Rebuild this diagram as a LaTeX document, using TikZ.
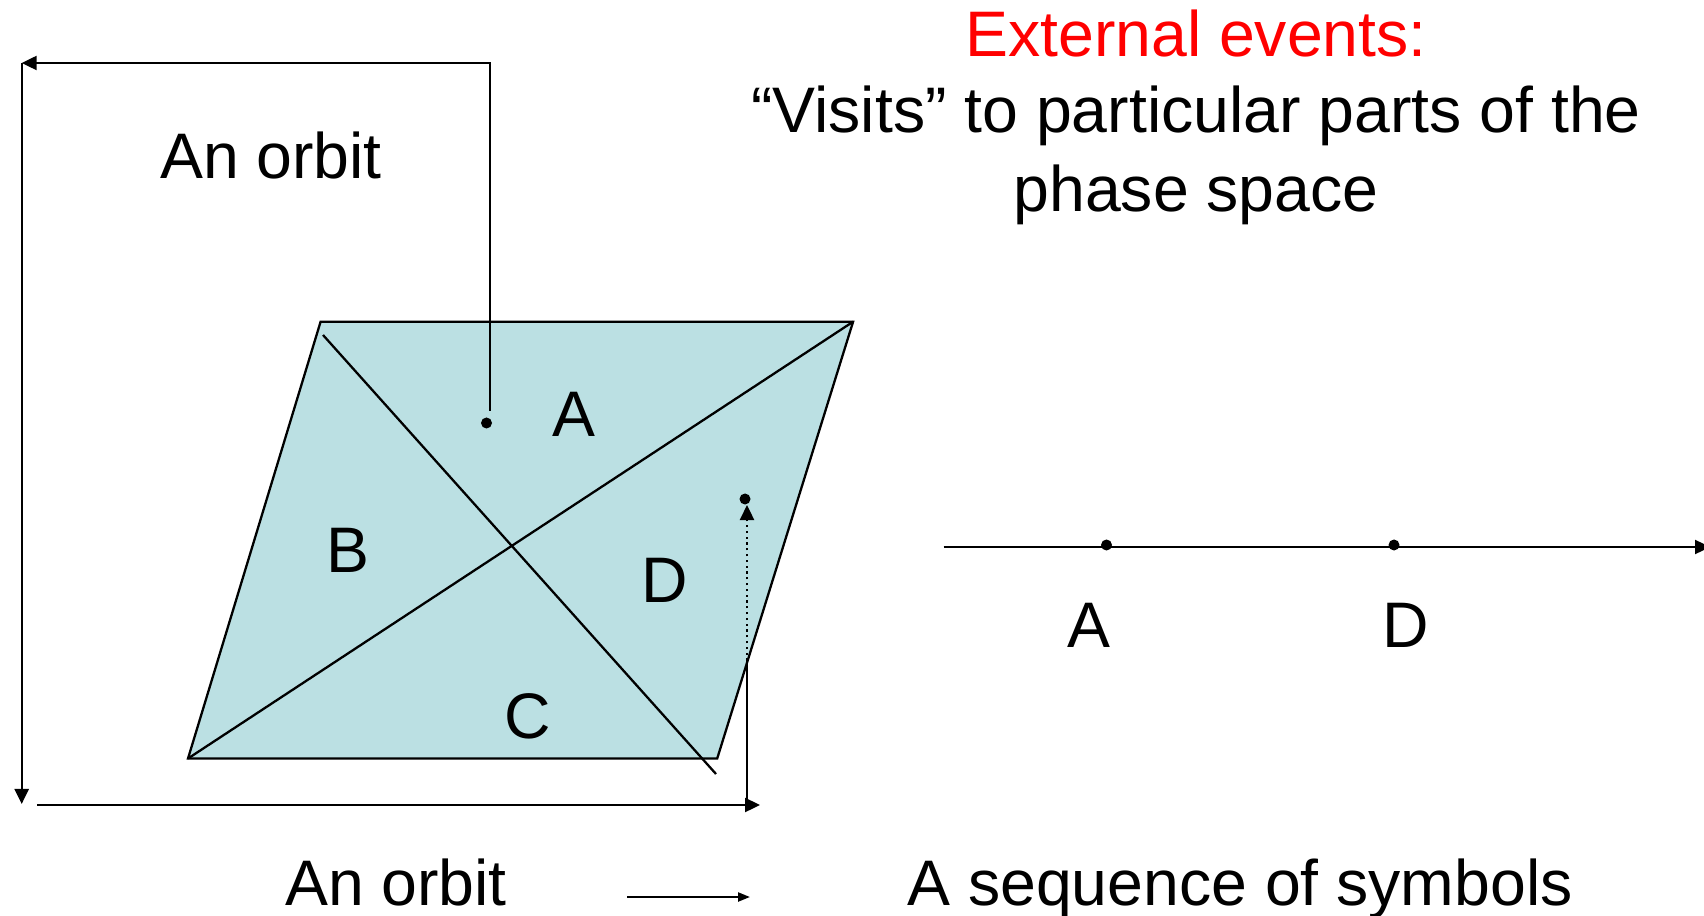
\documentclass[tikz,border=0pt]{standalone}
\usepackage{fontspec}
\setmainfont{Liberation Sans}
\usetikzlibrary{arrows.meta,positioning,calc}
\definecolor{regionfill}{RGB}{187,224,227}

\begin{document}
\begin{tikzpicture}[
  x=0.01cm, y=-0.01cm,
  lbl/.style={font=\fontsize{18.3}{21}\selectfont, inner sep=0pt, anchor=base},
  pt/.style={circle, fill=black, inner sep=0pt, minimum size=0.11cm},
  thin line/.style={line width=0.65pt},
  >={Triangle[length=0.15cm, width=0.14cm]}
]
  \useasboundingbox (0,0) rectangle (1704,916);

  % phase space split into four parts
  \coordinate (tl) at (320.6,321.7);
  \coordinate (tr) at (853.1,321.7);
  \coordinate (br) at (717.2,758.5);
  \coordinate (bl) at (188,758.5);
  \coordinate (dgA) at (323,335);
  \coordinate (dgB) at (716,774);
  \fill[regionfill] (tl) -- (tr) -- (br) -- (bl) -- cycle;
  \draw[thin line] (tl) -- (tr) -- (br) -- (bl) -- cycle;
  \draw[thin line] (bl) -- (tr);
  \draw[thin line] (dgA) -- (dgB);

  \node[lbl] (rA) at (573.5,436) {A};
  \node[lbl] (rB) at (348,572) {B};
  \node[lbl] (rC) at (528,738) {C};
  \node[lbl] (rD) at (665,602) {D};

  % the orbit
  \node[pt] (pA) at (486.5,423) {};
  \node[pt] (pD) at (745,499) {};
  \coordinate (o1) at (490,411);
  \coordinate (o2) at (490,63);
  \coordinate (o3) at (21.7,63);
  \coordinate (o4) at (21.7,804);
  \coordinate (o5) at (37,805);
  \coordinate (o6) at (760,805);
  \coordinate (o7) at (747,805);
  \coordinate (o8) at (747,660.7);
  \coordinate (o9) at (747,505);
  \draw[thin line, ->] (o1) -- (o2) -- (o3);
  \draw[thin line, ->] (o3) -- (o4);
  \draw[thin line, ->] (o5) -- (o6);
  \draw[thin line] (o7) -- (o8);
  \draw[thin line, densely dotted, ->] (o8) -- (o9);

  \node[lbl] (orbitTop) at (271,178.3) {An orbit};

  % symbol sequence
  \coordinate (s0) at (943.5,547);
  \coordinate (s1) at (1710,547);
  \draw[thin line, ->] (s0) -- (s1);
  \node[pt] (sA) at (1106.5,545) {};
  \node[pt] (sD) at (1394,545) {};
  \node[lbl] (symA) at (1088.5,647) {A};
  \node[lbl] (symD) at (1406,647) {D};

  % heading
  \node[lbl, text=red] (head) at (1196,56.7) {External events:};
  \node[lbl] (visits) at (1196,132.7) {``Visits'' to particular parts of the};
  \node[lbl] (phase) at (1196,211.5) {phase space};

  % bottom line
  \node[lbl] (orbitBot) at (396,905) {An orbit};
  \node[lbl] (seq) at (1240,905) {A sequence of symbols};
  \coordinate (m0) at (627,897);
  \coordinate (m1) at (750,897);
  \draw[thin line, -{Triangle[length=0.12cm, width=0.09cm]}] (m0) -- (m1);
\end{tikzpicture}
\end{document}
